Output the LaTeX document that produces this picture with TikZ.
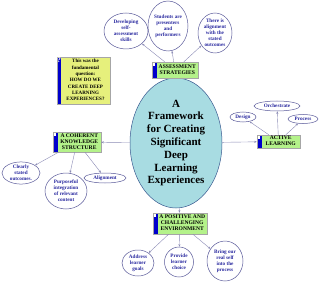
\documentclass[tikz,border=0pt]{standalone}
\usepackage{fontspec}
\setmainfont{Liberation Serif}
\usetikzlibrary{shapes.geometric,arrows.meta}
\definecolor{maincyan}{HTML}{A8DCE2}
\definecolor{mainline}{HTML}{3A5A90}
\definecolor{boxgreen}{HTML}{B4F28A}
\definecolor{boxyellow}{HTML}{E6F07C}
\definecolor{stripeblue}{HTML}{0000CC}
\definecolor{bubbletext}{HTML}{2A2AA0}
\definecolor{bubbleline}{HTML}{5A5A9A}
\definecolor{linecol}{HTML}{8A8AB4}
\begin{document}
\begin{tikzpicture}[x=1pt,y=-1pt,
  bubble/.style={ellipse, draw=bubbleline, fill=white, line width=0.5pt, inner sep=0pt,
    align=center, text=bubbletext, font=\fontsize{5.2}{6}\selectfont\bfseries},
  gbox/.style={rectangle, draw=gray!70, fill=boxgreen, line width=0.4pt, inner sep=0pt,
    font=\fontsize{5.6}{6.2}\selectfont\bfseries,
    path picture={\fill[stripeblue] (path picture bounding box.north west) rectangle ([xshift=4.5pt]path picture bounding box.south west);
      \fill[white] ([xshift=1.2pt,yshift=-1.2pt]path picture bounding box.north west) rectangle ++(2pt,-2.5pt);}},
  conn/.style={draw=linecol, line width=0.4pt, -{Stealth[length=2.6pt,width=2pt]}}
]
\useasboundingbox (0,0) rectangle (320,283);

% central ellipse
\node (main) [ellipse, minimum width=92pt, minimum height=130pt, fill=maincyan, draw=mainline,
  line width=0.5pt, inner sep=0pt, align=center, font=\fontsize{11}{12.8}\selectfont\bfseries]
  at (176,143) {A\\Framework\\for Creating\\Significant\\Deep\\Learning\\Experiences};

% boxes
\node (as) [gbox, minimum width=46pt, minimum height=16pt] at (175,70)
  {\hspace*{4.5pt}\begin{tabular}{@{}c@{}}ASSESSMENT\\STRATEGIES\end{tabular}};
\node (ck) [gbox, minimum width=48pt, minimum height=20pt] at (77,142)
  {\hspace*{4.5pt}\begin{tabular}{@{}c@{}}A COHERENT\\KNOWLEDGE\\STRUCTURE\end{tabular}};
\node (al) [gbox, minimum width=43pt, minimum height=13pt] at (278.5,141.5)
  {\hspace*{4.5pt}\begin{tabular}{@{}c@{}}ACTIVE\\LEARNING\end{tabular}};
\node (pos) [gbox, minimum width=54pt, minimum height=21pt] at (180,223.5)
  {\hspace*{4.5pt}\begin{tabular}{@{}c@{}}A POSITIVE AND\\CHALLENGING\\ENVIRONMENT\end{tabular}};

% yellow question box
\node (q) [rectangle, draw=gray!70, fill=boxyellow, line width=0.4pt, inner sep=0pt,
  minimum width=53pt, minimum height=47pt, font=\fontsize{5}{6.3}\selectfont\bfseries,
  path picture={\fill[stripeblue] (path picture bounding box.north west) rectangle ([xshift=4pt]path picture bounding box.south west);}]
  at (83.5,80.5)
  {\hspace*{4pt}\begin{tabular}{@{}c@{}}This was the\\fundamental\\question:\\HOW DO WE\\CREATE DEEP\\LEARNING\\EXPERIENCES?\end{tabular}};
\node (qmark) [text=white, font=\fontsize{7}{7}\selectfont\bfseries, inner sep=0pt] at (59,60.5) {?};

% bubbles
\node (dev) [bubble, minimum width=44pt, minimum height=36pt] at (126,31) {Developing\\self-\\assessment\\skills};
\node (stu) [bubble, minimum width=40pt, minimum height=50pt] at (168,26) {Students are\\presenters\\and\\performers};
\node (ali) [bubble, minimum width=34pt, minimum height=40pt] at (215,33) {There is\\alignment\\with the\\stated\\outcomes};

\node (des) [bubble, minimum width=26pt, minimum height=10pt] at (243,117) {Design};
\node (orc) [bubble, minimum width=46pt, minimum height=10pt] at (277,106) {Orchestrate};
\node (pro) [bubble, minimum width=30pt, minimum height=9pt] at (303,119) {Process};

\node (cle) [bubble, minimum width=38pt, minimum height=22pt] at (21,173) {Clearly\\stated\\outcomes.};
\node (pur) [bubble, minimum width=42pt, minimum height=36pt] at (66,191) {Purposeful\\integration\\of relevant\\content};
\node (aln) [bubble, minimum width=42pt, minimum height=10pt] at (105,178) {Alignment};

\node (add) [bubble, minimum width=32pt, minimum height=26pt] at (138,263) {Address\\learner\\goals};
\node (prv) [bubble, minimum width=29pt, minimum height=30pt] at (179,262) {Provide\\learner\\choice};
\node (bri) [bubble, minimum width=36pt, minimum height=40pt] at (225,261) {Bring our\\real self\\into the\\process};

% connectors
\draw[conn] (main) -- (ck);
\draw[conn] (main) -- (al);
\draw[conn] (main) -- (pos);

\draw[conn] (as) -- (dev);
\draw[conn] (as) -- (stu);
\draw[conn] (as) -- (ali);

\draw[conn] (al) -- (des);
\draw[conn] (al) -- (orc);
\draw[conn] (al) -- (pro);

\draw[conn] (ck) -- (cle);
\draw[conn] (ck) -- (pur);
\draw[conn] (ck) -- (aln);

\draw[conn] (pos) -- (add);
\draw[conn] (pos) -- (prv);
\draw[conn] (pos) -- (bri);
\end{tikzpicture}
\end{document}
